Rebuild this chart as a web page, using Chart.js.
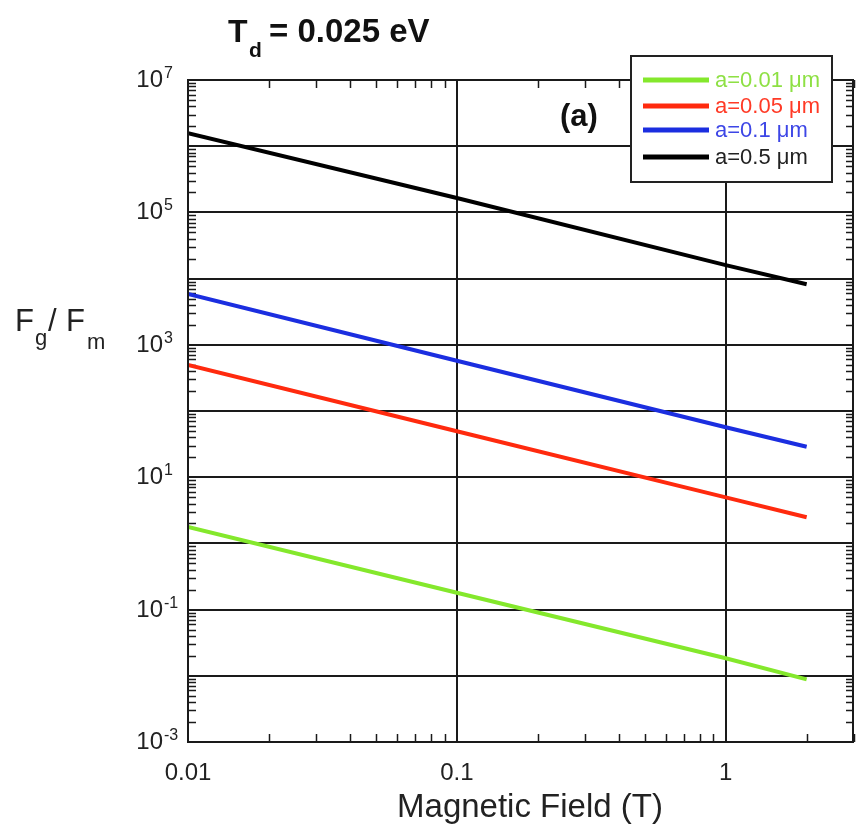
<!DOCTYPE html>
<html>
<head>
<meta charset="utf-8">
<script src="https://cdn.jsdelivr.net/npm/chart.js@4.4.1/dist/chart.umd.min.js"></script>
<style>
  html, body { margin: 0; padding: 0; background: #fff; }
  canvas { display: block; }
</style>
</head>
<body>
<canvas id="ratio-chart" width="856" height="826"></canvas>
<script>
// Fg/Fm vs magnetic field, Td = 0.025 eV
const fieldT = [0.01, 0.1, 1, 2];
const ratioA001 = [1.77, 0.18, 0.0184, 0.00885];
const ratioA005 = [495, 49.5, 4.95, 2.48];
const ratioA01 = [5850, 575, 56.7, 28.9];
const ratioA05 = [1.57e6, 1.65e5, 1.6e4, 8.2e3];

const seriesLabels = ["a=0.01 \u03bcm", "a=0.05 \u03bcm", "a=0.1 \u03bcm", "a=0.5 \u03bcm"];
const lineColors = ["#84e82c", "#ff2a0e", "#1b2ee0", "#000000"];
const textColors = ["#8ee044", "#ff3a26", "#3d46e6", "#222222"];

const xTickValues = [0.01, 0.1, 1];
const xTickLabels = ["0.01", "0.1", "1"];
const yLabelExponents = [-3, -1, 1, 3, 5, 7];

const FONT = '"Liberation Sans", Arial, sans-serif';

function toPoints(ys) {
    return fieldT.map((x, i) => ({ x: x, y: ys[i] }));
}

// gridlines, inward minor ticks, frame, labels and legend
const framePlugin = {
    id: "frame",
    beforeDatasetsDraw(chart) {
        const { ctx, chartArea, scales } = chart;
        const { left, right, top, bottom } = chartArea;
        ctx.save();
        ctx.strokeStyle = "#1a1a1a";
        ctx.lineWidth = 2;
        // decade gridlines
        for (let e = -2; e <= 6; e++) {
            const y = Math.round(scales.y.getPixelForValue(Math.pow(10, e)));
            ctx.beginPath();
            ctx.moveTo(left, y);
            ctx.lineTo(right, y);
            ctx.stroke();
        }
        for (const v of [0.1, 1]) {
            const x = Math.round(scales.x.getPixelForValue(v));
            ctx.beginPath();
            ctx.moveTo(x, top);
            ctx.lineTo(x, bottom);
            ctx.stroke();
        }
        // minor ticks
        ctx.lineWidth = 1.5;
        for (let e = -2; e <= 0; e++) {
            for (let k = 2; k <= 9; k++) {
                const v = k * Math.pow(10, e);
                if (v > scales.x.max) break;
                const x = Math.round(scales.x.getPixelForValue(v)) + 0.5;
                ctx.beginPath();
                ctx.moveTo(x, bottom);
                ctx.lineTo(x, bottom - 8);
                ctx.moveTo(x, top);
                ctx.lineTo(x, top + 8);
                ctx.stroke();
            }
        }
        for (let e = -3; e <= 6; e++) {
            for (let k = 2; k <= 9; k++) {
                const y = Math.round(scales.y.getPixelForValue(k * Math.pow(10, e))) + 0.5;
                ctx.beginPath();
                ctx.moveTo(left, y);
                ctx.lineTo(left + 8, y);
                ctx.moveTo(right, y);
                ctx.lineTo(right - 8, y);
                ctx.stroke();
            }
        }
        ctx.restore();
    },
    afterDatasetsDraw(chart) {
        const { ctx, chartArea, scales } = chart;
        const { left, right, top, bottom } = chartArea;
        ctx.save();
        // frame
        ctx.strokeStyle = "#1a1a1a";
        ctx.lineWidth = 2;
        ctx.strokeRect(left, top, right - left - 1, bottom - top);

        // x tick labels
        ctx.fillStyle = "#222";
        ctx.font = "24px " + FONT;
        ctx.textAlign = "center";
        ctx.textBaseline = "alphabetic";
        xTickValues.forEach((v, i) => {
            ctx.fillText(xTickLabels[i], scales.x.getPixelForValue(v), bottom + 38);
        });

        // y tick labels 10^n
        yLabelExponents.forEach((e) => {
            const y = scales.y.getPixelForValue(Math.pow(10, e));
            ctx.font = "24px " + FONT;
            ctx.textAlign = "right";
            ctx.fillText("10", 163, y + 7);
            ctx.font = "16px " + FONT;
            ctx.textAlign = "left";
            ctx.fillText(String(e), 164, y - 2);
        });

        // axis titles
        ctx.font = "33px " + FONT;
        ctx.textAlign = "center";
        ctx.fillText("Magnetic Field (T)", 530, 817);

        ctx.textAlign = "left";
        ctx.font = "31px " + FONT;
        ctx.fillText("F", 15, 331);
        ctx.font = "22px " + FONT;
        ctx.fillText("g", 35, 345);
        ctx.font = "31px " + FONT;
        ctx.fillText("/", 48, 331);
        ctx.fillText("F", 66, 331);
        ctx.font = "22px " + FONT;
        ctx.fillText("m", 87, 349);

        // heading
        ctx.font = "bold 32px " + FONT;
        ctx.fillStyle = "#111";
        ctx.fillText("T", 228, 42);
        ctx.font = "bold 21px " + FONT;
        ctx.fillText("d", 249, 57);
        ctx.font = "bold 33px " + FONT;
        ctx.fillText("= 0.025 eV", 269, 42);

        ctx.font = "bold 31px " + FONT;
        ctx.fillText("(a)", 560, 126);

        // legend box
        const bx = 631, by = 56, bw = 201, bh = 126;
        ctx.fillStyle = "#fff";
        ctx.fillRect(bx, by, bw, bh);
        ctx.strokeStyle = "#222";
        ctx.lineWidth = 2;
        ctx.strokeRect(bx, by, bw, bh);
        const rowY = [80, 106, 130, 157];
        ctx.font = "22px " + FONT;
        ctx.textBaseline = "middle";
        seriesLabels.forEach((label, i) => {
            ctx.strokeStyle = lineColors[i];
            ctx.lineWidth = 5;
            ctx.beginPath();
            ctx.moveTo(643, rowY[i]);
            ctx.lineTo(709, rowY[i]);
            ctx.stroke();
            ctx.fillStyle = textColors[i];
            ctx.fillText(label, 715, rowY[i] + 1);
        });
        ctx.restore();
    }
};

const seriesData = [ratioA001, ratioA005, ratioA01, ratioA05];

new Chart("ratio-chart", {
    type: "line",
    data: {
        datasets: seriesData.map((ys, i) => ({
            label: seriesLabels[i],
            data: toPoints(ys),
            borderColor: lineColors[i],
            borderWidth: 4,
            pointRadius: 0,
            tension: 0,
            fill: false,
        })),
    },
    options: {
        responsive: false,
        animation: false,
        layout: { padding: { left: 188, top: 80, right: 2, bottom: 84 } },
        plugins: {
            legend: { display: false },
            tooltip: { enabled: false },
        },
        scales: {
            x: { type: "logarithmic", min: 0.01, max: 3, display: false },
            y: { type: "logarithmic", min: 1e-3, max: 1e7, display: false },
        },
    },
    plugins: [framePlugin],
});
</script>
</body>
</html>
